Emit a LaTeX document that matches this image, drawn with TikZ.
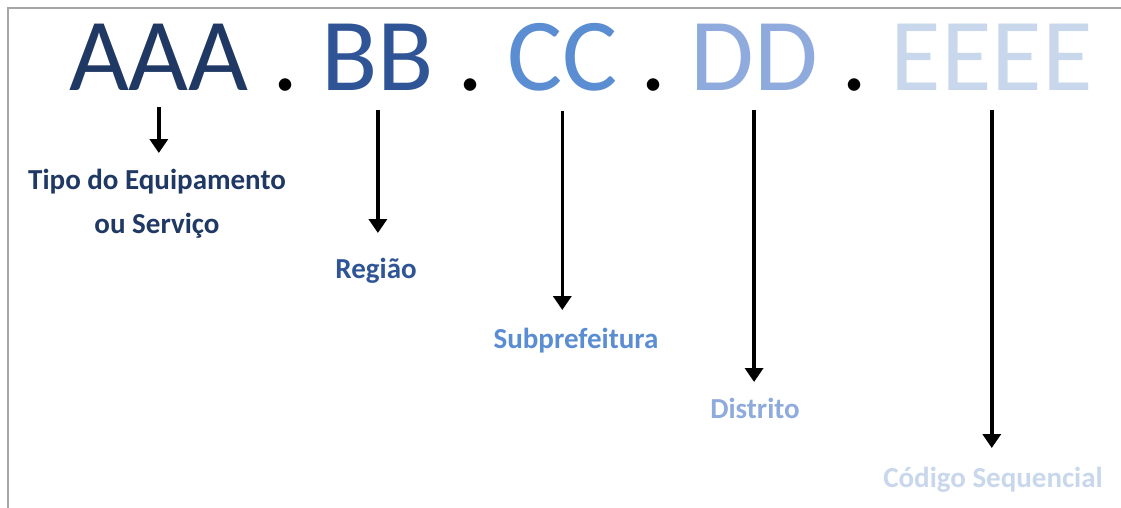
\documentclass[tikz,border=0pt]{standalone}
\usepackage{fontspec}
\setmainfont{Carlito}
\usetikzlibrary{arrows.meta}
\definecolor{cA}{HTML}{1F3864}
\definecolor{cB}{HTML}{2F5597}
\definecolor{cC}{HTML}{5B8DD3}
\definecolor{cD}{HTML}{8FAADC}
\definecolor{cE}{HTML}{C9D7EC}
\definecolor{framegray}{HTML}{A6A6A6}
\begin{document}
\begin{tikzpicture}[x=1pt,y=-1pt,
  code/.style={inner sep=0pt,outer sep=0pt,anchor=base west,font=\fontsize{103.5}{103.5}\selectfont},
  lbl/.style={inner sep=0pt,outer sep=0pt,anchor=base,font=\bfseries\fontsize{29}{44}\selectfont},
  arr/.style={line width=3.5pt,-{Triangle[width=18pt,length=14pt]}}]
\useasboundingbox (0,0) rectangle (1121,508);
\fill[white] (0,0) rectangle (1121,508);
\draw[framegray,line width=1.5pt] (8,508) -- (8,8) -- (1121,8);
% code string
\node[code,text=cA] (a) at (69,91) {AAA};
\node[code] (d1) at (a.base east) {\null~.~\null};
\node[code,text=cB] (b) at (d1.base east) {BB};
\node[code] (d2) at (b.base east) {\null~.~\null};
\node[code,text=cC] (c) at (d2.base east) {CC};
\node[code] (d3) at (c.base east) {\null~.~\null};
\node[code,text=cD] (d) at (d3.base east) {DD};
\node[code] (d4) at (d.base east) {\null~.~\null};
\node[code,text=cE] (e) at (d4.base east) {EEEE};
% labels
\node[lbl,text=cA,align=center,anchor=north] (l1) at (157,169) {Tipo do Equipamento\\ou Serviço};
\node[lbl,text=cB] (l2) at (376,278) {Região};
\node[lbl,text=cC] (l3) at (576,348) {Subprefeitura};
\node[lbl,text=cD] (l4) at (755,418) {Distrito};
\node[lbl,text=cE] (l5) at (993,487) {Código Sequencial};
% arrow tips
\coordinate (t1) at (0,153);
\coordinate (t2) at (0,233);
\coordinate (t3) at (0,310);
\coordinate (t4) at (0,382);
\coordinate (t5) at (0,448);
\draw[arr] ([yshift=-16pt]a.south) -- (a.south |- t1);
\draw[arr] ([yshift=-19pt]b.south) -- (b.south |- t2);
\draw[arr] ([yshift=-19pt]c.south) -- (c.south |- t3);
\draw[arr] ([yshift=-19pt]d.south) -- (d.south |- t4);
\draw[arr] ([yshift=-19pt]e.south) -- (e.south |- t5);
\end{tikzpicture}
\end{document}
